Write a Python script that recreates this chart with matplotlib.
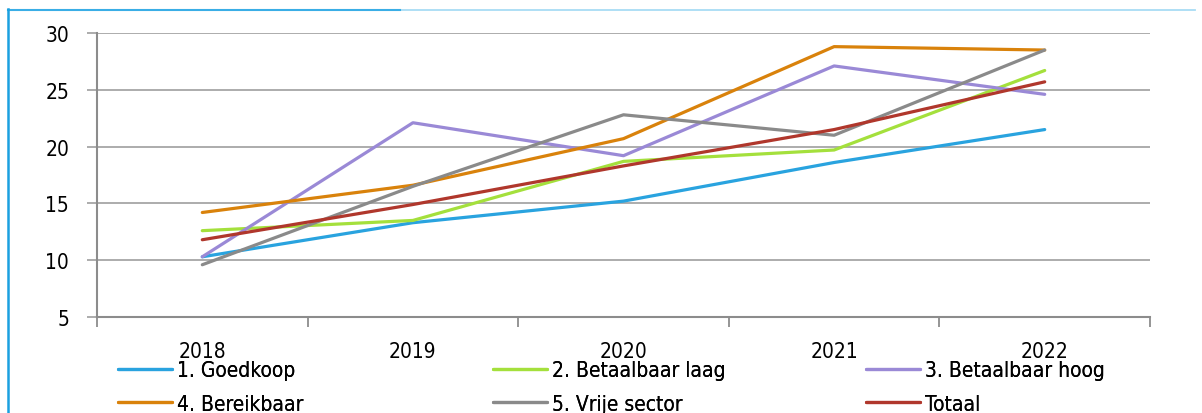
import matplotlib
matplotlib.use("Agg")
import matplotlib.pyplot as plt
from matplotlib.lines import Line2D

plt.rcParams['font.family'] = ['DejaVu Sans']
plt.rcParams['font.stretch'] = 'condensed'

years = ["2018", "2019", "2020", "2021", "2022"]
goedkoop = [10.3, 13.3, 15.2, 18.6, 21.5]
betaalbaar_laag = [12.6, 13.5, 18.7, 19.7, 26.7]
betaalbaar_hoog = [10.3, 22.1, 19.2, 27.1, 24.6]
bereikbaar = [14.2, 16.6, 20.7, 28.8, 28.5]
vrije_sector = [9.6, 16.5, 22.8, 21.0, 28.5]
totaal = [11.8, 14.9, 18.3, 21.5, 25.7]

series = [
    ("1. Goedkoop", goedkoop, "#29a3df"),
    ("2. Betaalbaar laag", betaalbaar_laag, "#a4e03c"),
    ("3. Betaalbaar hoog", betaalbaar_hoog, "#9a89d6"),
    ("4. Bereikbaar", bereikbaar, "#d9820b"),
    ("5. Vrije sector", vrije_sector, "#8a8a8a"),
    ("Totaal", totaal, "#b0372c"),
]
yticks = [5, 10, 15, 20, 25, 30]

W, H = 1202, 414
FS = 15
fig = plt.figure(figsize=(W / 100, H / 100), dpi=100)
ax = fig.add_axes([97 / W, 1 - 318 / H, (1150 - 97) / W, (318 - 34) / H])

x = list(range(len(years)))
handles = {}
for name, vals, col in series:
    ln, = ax.plot(x, vals, color=col, lw=2.3, solid_capstyle='round', zorder=3)
    handles[name] = ln

ax.set_xlim(-0.5, len(years) - 0.5)
ax.set_ylim(5, 30)
ax.set_yticks(yticks)
ax.set_yticklabels([str(v) for v in yticks], fontsize=FS)
ax.yaxis.grid(True, color="#a6a6a6", lw=1.3)
ax.set_axisbelow(True)

ax.set_xticks([i - 0.5 for i in range(len(years) + 1)])
ax.set_xticklabels([])
ax.set_xticks(x, minor=True)
ax.set_xticklabels(years, minor=True, fontsize=FS)
ax.tick_params(axis='x', which='minor', length=0, pad=17)
ax.tick_params(axis='x', which='major', length=7, width=1.3, color="#8c8c8c", direction='out')
ax.tick_params(axis='y', length=7, width=1.3, color="#a6a6a6", pad=13)

for s in ['top', 'right']:
    ax.spines[s].set_visible(False)
ax.spines['left'].set_color("#8c8c8c")
ax.spines['left'].set_linewidth(1.5)
ax.spines['bottom'].set_color("#8c8c8c")
ax.spines['bottom'].set_linewidth(1.5)

# blue frame
fig.add_artist(Line2D([8 / W, 1195 / W], [1 - 10.5 / H, 1 - 10.5 / H], transform=fig.transFigure,
                      color="#a8dcf4", lw=1.3))
fig.add_artist(Line2D([8 / W, 400 / W], [1 - 10.5 / H, 1 - 10.5 / H], transform=fig.transFigure,
                      color="#3aaee6", lw=1.5))
fig.add_artist(Line2D([8 / W, 8 / W], [0, 1 - 10 / H], transform=fig.transFigure,
                      color="#1aa0e0", lw=1.8))

cols = [(["1. Goedkoop", "4. Bereikbaar"], 118),
        (["2. Betaalbaar laag", "5. Vrije sector"], 493),
        (["3. Betaalbaar hoog", "Totaal"], 866)]
for names, px in cols:
    leg = fig.legend([handles[n] for n in names], names, loc='upper left',
                     bbox_to_anchor=(px / W, 1 - 361 / H), frameon=False,
                     fontsize=FS, borderpad=0, borderaxespad=0, handlelength=2.6,
                     handletextpad=0.22, labelspacing=0.65)
    fig.add_artist(leg)

fig.savefig("out.png", dpi=100)
